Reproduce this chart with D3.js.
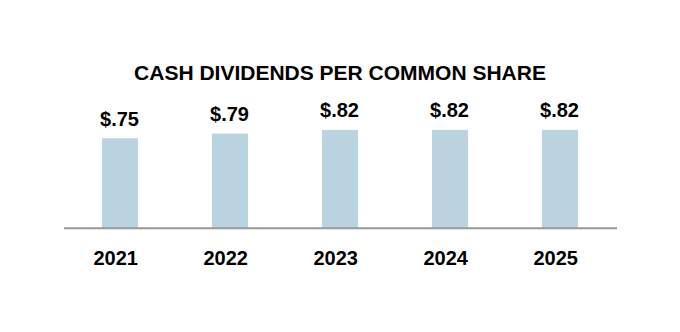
<!DOCTYPE html>
<html><head><meta charset="utf-8">
<script src="https://cdn.jsdelivr.net/npm/d3@7"></script>
<style>body{margin:0;background:#fff}svg{display:block}text{font-family:"Liberation Sans",Arial,sans-serif;font-weight:bold;fill:#000}</style>
</head><body>
<script>
const title = "CASH DIVIDENDS PER COMMON SHARE";
const years = ["2021","2022","2023","2024","2025"];
const dividends = [0.75,0.79,0.82,0.82,0.82];
const valueLabels = ["$.75","$.79","$.82","$.82","$.82"];

const W=680,H=332;
const svg=d3.select("body").append("svg").attr("width",W).attr("height",H);
const x=d3.scaleBand().domain(years).range([65,615]).paddingInner(0.673).paddingOuter(0.3365);
const y=d3.scaleLinear().domain([0,1]).range([228.3,108.3]);

svg.append("text").attr("x",340).attr("y",80).attr("text-anchor","middle").style("font-size","21px").text(title);

svg.selectAll("rect.bar").data(dividends).enter().append("rect").attr("class","bar")
  .attr("x",(d,i)=>x(years[i])).attr("width",x.bandwidth())
  .attr("y",d=>y(d)).attr("height",d=>y(0)-y(d)).attr("fill","#bad3e0");

svg.selectAll("text.val").data(dividends).enter().append("text").attr("class","val")
  .attr("x",(d,i)=>x(years[i])+x.bandwidth()/2-0.5).attr("y",d=>y(d)-12.5)
  .attr("text-anchor","middle").style("font-size","20px").text((d,i)=>valueLabels[i]);

const axis=d3.axisBottom(x).tickSize(0).tickPadding(0);
const g=svg.append("g").attr("transform",`translate(0,${y(0)})`).call(axis);
g.select(".domain").attr("stroke","#999").attr("stroke-width",2).attr("d","M64,0H617");
g.selectAll(".tick text").attr("dy",0).attr("y",37).attr("x",-4.3).style("font-size","20px").style("font-family","'Liberation Sans',Arial,sans-serif").attr("fill","#000");
</script>
</body></html>
